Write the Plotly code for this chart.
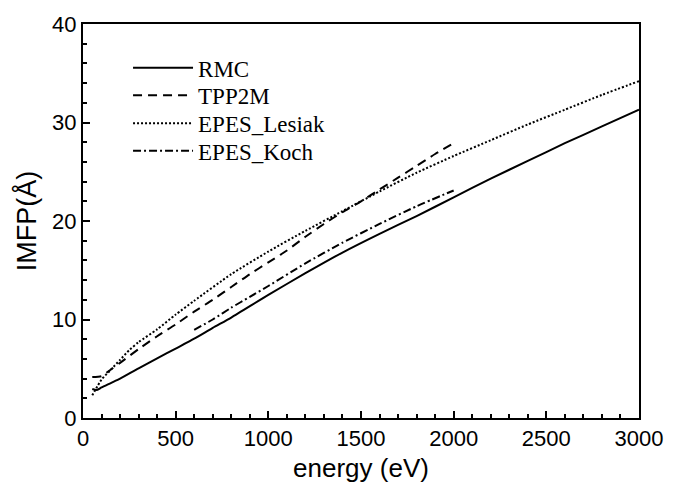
import plotly.graph_objects as go

rmc_e = [50, 75, 100, 150, 200, 300, 400, 500, 600, 700, 800, 1000, 1200, 1400, 1600, 1800, 2000, 2200, 2400, 2600, 2800, 3000]
rmc_v = [2.95, 2.85, 3.1, 3.55, 4.0, 5.05, 6.05, 7.05, 8.05, 9.15, 10.2, 12.5, 14.7, 16.8, 18.7, 20.5, 22.4, 24.3, 26.1, 27.9, 29.6, 31.3]

tpp_e = [50, 100, 130, 160, 200, 300, 400, 500, 600, 700, 800, 900, 1000, 1100, 1200, 1300, 1400, 1500, 1600, 1700, 1800, 1900, 2000]
tpp_v = [4.15, 4.25, 4.65, 5.05, 5.6, 7.0, 8.3, 9.5, 10.8, 12.0, 13.3, 14.6, 15.8, 17.0, 18.4, 19.7, 20.9, 22.0, 23.2, 24.4, 25.6, 26.8, 27.9]

les_e = [50, 100, 150, 200, 250, 300, 400, 500, 600, 800, 1000, 1200, 1400, 1600, 1800, 2000, 2200, 2400, 2600, 2800, 3000]
les_v = [2.3, 3.9, 4.9, 5.9, 6.9, 7.7, 9.0, 10.5, 11.9, 14.6, 16.9, 19.0, 21.0, 23.0, 24.9, 26.6, 28.2, 29.8, 31.3, 32.8, 34.2]

koch_e = [600, 700, 800, 900, 1000, 1200, 1400, 1600, 1800, 2000]
koch_v = [8.95, 10.0, 11.2, 12.3, 13.4, 15.7, 17.8, 19.7, 21.5, 23.1]

x_ticks = [0, 500, 1000, 1500, 2000, 2500, 3000]
y_ticks = [0, 10, 20, 30, 40]

fig = go.Figure()
fig.add_trace(go.Scatter(x=rmc_e, y=rmc_v, mode="lines", name="RMC", legend="legend",
                         line=dict(color="black", width=2, dash="solid", shape="spline", smoothing=0.6)))
fig.add_trace(go.Scatter(x=tpp_e, y=tpp_v, mode="lines", name="TPP2M", legend="legend2",
                         line=dict(color="black", width=2, dash="9px,6px", shape="spline", smoothing=0.6)))
fig.add_trace(go.Scatter(x=les_e, y=les_v, mode="lines", name="EPES_Lesiak", legend="legend3",
                         line=dict(color="black", width=2, dash="2px,2px", shape="spline", smoothing=0.6)))
fig.add_trace(go.Scatter(x=koch_e, y=koch_v, mode="lines", name="EPES_Koch", legend="legend4",
                         line=dict(color="black", width=2, dash="8px,3px,2px,3px", shape="spline", smoothing=0.6)))

tick_font = dict(family="Liberation Sans, Arial", size=22, color="black")
leg_font = dict(family="Liberation Serif, Times New Roman", size=23, color="black")


def leg(yp):
    return dict(x=0.081, y=yp, xanchor="left", yanchor="middle", font=leg_font,
                bgcolor="rgba(0,0,0,0)", itemwidth=60)


fig.update_layout(
    width=677, height=490,
    margin=dict(l=83, r=38, t=17, b=66),
    paper_bgcolor="white", plot_bgcolor="white",
    showlegend=True,
    legend=leg(0.889), legend2=leg(0.819), legend3=leg(0.748), legend4=leg(0.678),
    xaxis=dict(range=[0, 3000], tickvals=x_ticks, ticks="inside", ticklen=7, tickwidth=1.5,
               tickcolor="black", showline=True, linecolor="black", linewidth=2, mirror=True,
               showgrid=False, zeroline=False, tickfont=tick_font,
               minor=dict(dtick=100, ticks="inside", ticklen=4, tickwidth=1.5, tickcolor="black", showgrid=False),
               title=dict(text="energy (eV)", font=dict(family="Liberation Sans, Arial", size=26, color="black"), standoff=8)),
    yaxis=dict(range=[0, 40], tickvals=y_ticks, ticks="inside", ticklen=7, tickwidth=1.5,
               tickcolor="black", showline=True, linecolor="black", linewidth=2, mirror=True,
               showgrid=False, zeroline=False, tickfont=tick_font,
               minor=dict(dtick=2, ticks="inside", ticklen=4, tickwidth=1.5, tickcolor="black", showgrid=False),
               title=dict(text="IMFP(Å)", font=dict(family="Liberation Sans, Arial", size=27, color="black"), standoff=8)),
)

fig.write_html("out.html", config={"displayModeBar": False},
               post_script="document.body.style.margin='0px';document.body.style.overflow='hidden';")
